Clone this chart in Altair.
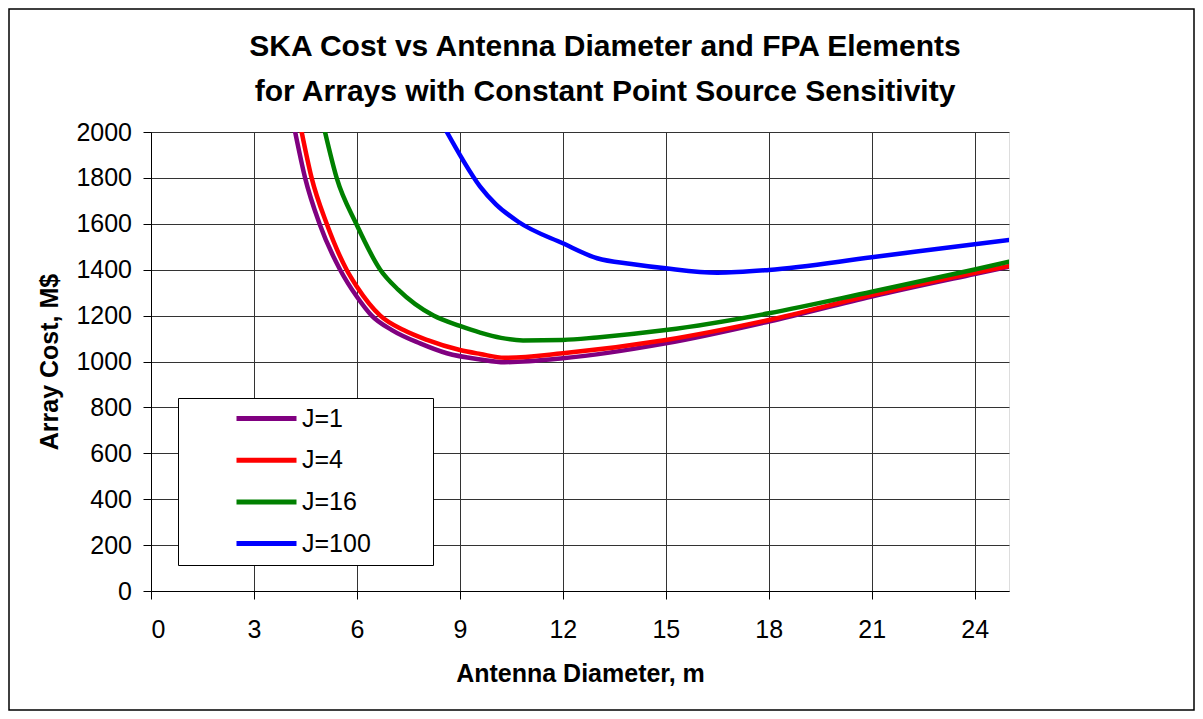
import altair as alt
import pandas as pd

series_names = ["J=1", "J=4", "J=16", "J=100"]
series_colors = ["#800080", "#FF0000", "#008000", "#0000FF"]

j1_x = [4.20, 4.49, 4.91, 5.51, 6.0, 6.43, 7.02, 7.84, 8.62, 9.59, 10.3, 12.0, 15.0, 18.0, 21.0, 24.0, 25.0]
j1_y = [2000, 1800, 1600, 1400, 1282, 1200, 1137, 1079, 1036, 1009, 997, 1014, 1079, 1174, 1283, 1381, 1413]

j4_x = [4.39, 4.68, 5.12, 5.70, 6.0, 6.68, 7.36, 8.04, 9.0, 9.59, 10.3, 12.0, 15.0, 18.0, 21.0, 24.0, 25.0]
j4_y = [2000, 1800, 1600, 1400, 1326, 1200, 1137, 1094, 1050, 1033, 1016, 1036, 1094, 1181, 1290, 1387, 1416]

j16_x = [5.07, 5.41, 5.98, 6.68, 7.21, 8.23, 9.0, 9.59, 10.2, 10.84, 12.0, 13.0, 15.0, 18.0, 21.0, 24.0, 25.0]
j16_y = [2000, 1800, 1600, 1400, 1312, 1200, 1155, 1126, 1103, 1092, 1094, 1105, 1137, 1210, 1304, 1401, 1435]

j100_x = [8.62, 9.06, 9.59, 10.05, 10.7, 12.0, 13.0, 14.0, 15.0, 16.5, 18.0, 21.0, 24.0, 25.0]
j100_y = [2000, 1885, 1762, 1685, 1609, 1515, 1450, 1425, 1406, 1387, 1399, 1454, 1511, 1529]

x_ticks = [0, 3, 6, 9, 12, 15, 18, 21, 24]
y_ticks = [0, 200, 400, 600, 800, 1000, 1200, 1400, 1600, 1800, 2000]

title_lines = ["SKA Cost vs Antenna Diameter and FPA Elements",
               "for Arrays with Constant Point Source Sensitivity"]
x_title = "Antenna Diameter, m"
y_title = "Array Cost, M$"

FONT = "Liberation Sans"

rows = []
for name, xs, ys in zip(series_names, [j1_x, j4_x, j16_x, j100_x], [j1_y, j4_y, j16_y, j100_y]):
    for xv, yv in zip(xs, ys):
        rows.append({"series": name, "d": xv, "cost": yv})
df = pd.DataFrame(rows)

W, H = 858, 459

color_scale = alt.Scale(domain=series_names, range=series_colors)

x_enc = alt.X("d:Q", scale=alt.Scale(domain=[0, 25], nice=False),
              axis=alt.Axis(values=x_ticks, format="d", title=x_title, labelFontSize=25, labelFont=FONT,
                            labelPadding=18, tickSize=8, tickColor="black", domainColor="black",
                            gridColor="#333333", gridWidth=1, titleFontSize=25, titleFont=FONT,
                            titleFontWeight="bold", titleBaseline="alphabetic", titleY=90,
                            titleX=W / 2, labelColor="black", titleColor="black"))
y_enc = alt.Y("cost:Q", scale=alt.Scale(domain=[0, 2000], nice=False),
              axis=alt.Axis(values=y_ticks, format="d", title=y_title, labelFontSize=25, labelFont=FONT,
                            labelPadding=11.5, tickSize=8, tickColor="black", domainColor="black",
                            gridColor="#333333", gridWidth=1, titleFontSize=25, titleFont=FONT,
                            titleFontWeight="bold", titleAngle=270, titleBaseline="alphabetic",
                            titleX=-94, titleY=H / 2, titleAlign="center",
                            labelColor="black", titleColor="black"))

legend = alt.Legend(orient="none", legendX=27, legendY=266, title=None,
                    fillColor="white", strokeColor="black", padding=8,
                    symbolType="M-3,0H3", symbolSize=400, symbolStrokeWidth=5,
                    symbolOffset=68, labelOffset=23, labelFontSize=25, labelFont=FONT,
                    labelColor="black", rowPadding=15.7, labelLimit=400,
                    labelExpr="datum.label + '       \u2009\u200b'")

layers = []
for i, name in enumerate(series_names):
    layers.append(
        alt.Chart(df).transform_filter(alt.datum.series == name)
        .mark_line(strokeWidth=4.5, interpolate="monotone", clip=True, strokeCap="round")
        .encode(x=x_enc, y=y_enc,
                color=alt.Color("series:N", scale=color_scale,
                                legend=legend if i == 0 else None))
    )

border = alt.Chart(pd.DataFrame({"a": [0]})).mark_rect(
    fill=None, stroke="black", strokeWidth=1.5).encode(
    x=alt.value(-142), x2=alt.value(W + 185), y=alt.value(-123), y2=alt.value(H + 119))

chart = alt.layer(*layers, border).properties(
    width=W, height=H,
    autosize="none",
    padding={"left": 143, "top": 124, "right": 186, "bottom": 120},
    title=alt.TitleParams(text=title_lines, fontSize=30, font=FONT, fontWeight="bold",
                          lineHeight=45, anchor="middle", frame="group", dx=25,
                          offset=-99, color="black"),
).configure_view(stroke="#808080", strokeWidth=1.5).configure(background="white")

chart.save("out.html", embed_options={"renderer": "svg", "actions": False})
